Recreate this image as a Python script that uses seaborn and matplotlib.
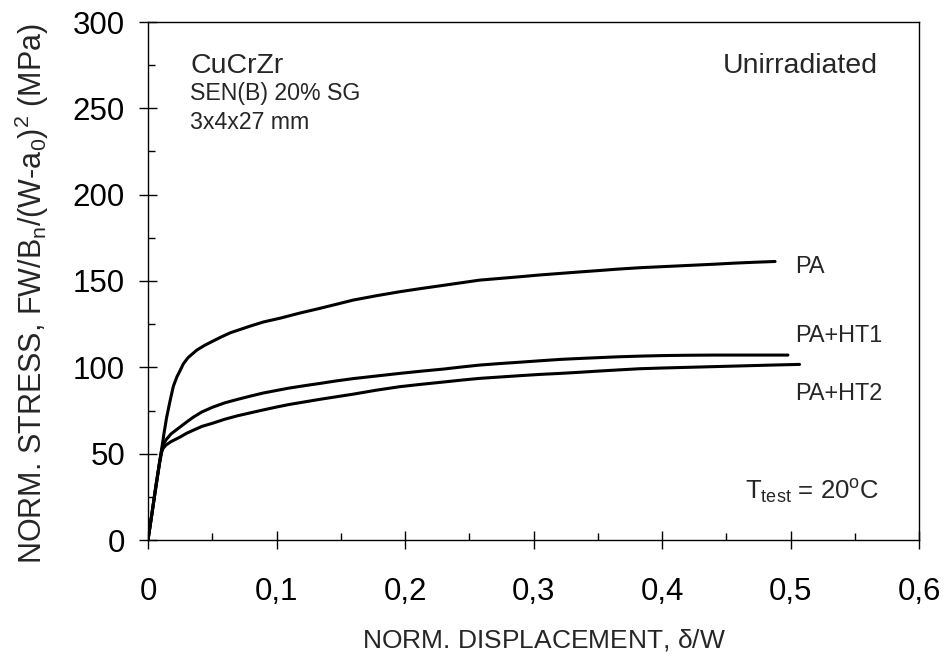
import matplotlib
matplotlib.use("Agg")
import matplotlib.pyplot as plt
from matplotlib.ticker import MultipleLocator, FuncFormatter
import pandas as pd
import seaborn as sns

# Normalised displacement (delta/W) and normalised stress (MPa) for each condition
disp_pa = [0, 0.003, 0.006, 0.009, 0.0105, 0.0125, 0.0145, 0.017, 0.0197, 0.0225, 0.0249,
           0.0275, 0.031, 0.038, 0.044, 0.05, 0.057, 0.064, 0.072, 0.08, 0.09, 0.103,
           0.118, 0.134, 0.147, 0.16, 0.178, 0.196, 0.213, 0.23, 0.244, 0.258, 0.274,
           0.29, 0.305, 0.321, 0.335, 0.35, 0.366, 0.383, 0.40, 0.42, 0.44, 0.455, 0.47, 0.488]
stress_pa = [0, 15, 31, 45, 52, 62, 71, 80, 89, 94.5, 98,
             102, 105.5, 110, 112.7, 115, 117.6, 120, 122, 124, 126.3, 128.5,
             131.4, 134.2, 136.6, 139, 141.5, 143.8, 145.7, 147.5, 149, 150.5, 151.5,
             152.5, 153.5, 154.4, 155.2, 156, 156.9, 157.7, 158.3, 159, 159.7, 160.3, 160.8, 161.3]

disp_ht1 = [0, 0.003, 0.006, 0.009, 0.0105, 0.0117, 0.014, 0.018, 0.0249, 0.03, 0.035,
            0.042, 0.0506, 0.06, 0.07, 0.08, 0.0895, 0.1, 0.11, 0.122, 0.134, 0.147,
            0.16, 0.178, 0.196, 0.213, 0.23, 0.244, 0.258, 0.274, 0.29, 0.305, 0.321,
            0.335, 0.35, 0.366, 0.383, 0.40, 0.42, 0.44, 0.46, 0.48, 0.498]
stress_ht1 = [0, 15, 30, 45, 51.5, 55, 58, 61.5, 65.4, 68.3, 71,
              74.2, 77, 79.5, 81.5, 83.4, 85.1, 86.6, 88, 89.4, 90.7, 92.2,
              93.5, 95, 96.5, 97.8, 99, 100.2, 101.3, 102.2, 103, 103.8, 104.6,
              105.1, 105.6, 106.1, 106.5, 106.8, 107, 107.1, 107.1, 107.1, 107.1]

disp_ht2 = [0, 0.003, 0.006, 0.009, 0.0105, 0.0117, 0.014, 0.018, 0.0249, 0.03, 0.035,
            0.042, 0.0506, 0.06, 0.07, 0.08, 0.0895, 0.1, 0.11, 0.122, 0.134, 0.147,
            0.16, 0.178, 0.196, 0.213, 0.23, 0.244, 0.258, 0.274, 0.29, 0.305, 0.321,
            0.335, 0.35, 0.366, 0.383, 0.40, 0.42, 0.44, 0.46, 0.485, 0.507]
stress_ht2 = [0, 15, 30, 44.5, 50.5, 53, 55, 57, 59.6, 61.8, 63.5,
              65.8, 67.7, 70, 72, 73.7, 75.3, 77, 78.5, 80, 81.5, 83,
              84.5, 86.8, 88.8, 90.2, 91.5, 92.6, 93.6, 94.4, 95.2, 95.9, 96.5,
              97.1, 97.8, 98.5, 99.2, 99.6, 100, 100.4, 100.8, 101.3, 101.7]

series_names = ["PA", "PA+HT1", "PA+HT2"]

frames = []
for name, xs, ys in zip(series_names,
                        [disp_pa, disp_ht1, disp_ht2],
                        [stress_pa, stress_ht1, stress_ht2]):
    frames.append(pd.DataFrame({"disp": xs, "stress": ys, "cond": name}))
data = pd.concat(frames, ignore_index=True)

sns.set_style("ticks")
plt.rcParams["font.family"] = ["Liberation Sans", "DejaVu Sans"]
plt.rcParams["mathtext.default"] = "regular"

fig = plt.figure(figsize=(9.47, 6.57), dpi=100)
ax = fig.add_axes([148 / 947, 1 - 540 / 657, (919 - 148) / 947, (540 - 22) / 657])

sns.lineplot(data=data, x="disp", y="stress", hue="cond",
             palette=["black"] * 3, estimator=None, legend=False,
             linewidth=2.2, ax=ax)

ax.set_xlim(0, 0.6)
ax.set_ylim(0, 300)
ax.xaxis.set_major_locator(MultipleLocator(0.1))
ax.xaxis.set_minor_locator(MultipleLocator(0.05))
ax.yaxis.set_major_locator(MultipleLocator(50))
ax.yaxis.set_minor_locator(MultipleLocator(25))
ax.xaxis.set_major_formatter(FuncFormatter(
    lambda v, p: "0" if abs(v) < 1e-9 else f"{v:.1f}".replace(".", ",")))
ax.yaxis.set_major_formatter(FuncFormatter(lambda v, p: f"{v:.0f}"))

for s in ax.spines.values():
    s.set_linewidth(1.0)
    s.set_color("black")

ax.tick_params(which="major", direction="inout", length=13, width=1.0,
               labelsize=22.5, colors="black")
ax.tick_params(axis="x", which="major", pad=20)
ax.tick_params(axis="y", which="major", pad=10)
ax.tick_params(which="minor", direction="in", length=5, width=1.0, colors="black")
ax.tick_params(top=False, right=False, which="both")

ax.set_xlabel(r"NORM. DISPLACEMENT, $\delta$/W", fontsize=19)
ax.xaxis.set_label_coords(0.513, -0.168)
ax.set_ylabel(r"NORM. STRESS, FW/B$_n$/(W-a$_0$)$^2$ (MPa)", fontsize=22)
ax.yaxis.set_label_coords(-0.126, 0.476)

ax.text(0.0327, 270.5, "CuCrZr", fontsize=20.5, va="baseline")
ax.text(0.0327, 255, "SEN(B) 20% SG", fontsize=16.7, va="baseline")
ax.text(0.0327, 238, "3x4x27 mm", fontsize=16.7, va="baseline")
ax.text(0.568, 270.5, "Unirradiated", fontsize=20.5, ha="right", va="baseline")

ax.text(0.5035, 154.6, "PA", fontsize=16.9, va="baseline")
ax.text(0.5035, 114.9, "PA+HT1", fontsize=16.9, va="baseline")
ax.text(0.5035, 81, "PA+HT2", fontsize=16.9, va="baseline")

ax.text(0.4646, 23.2, r"T$_{test}$ = 20$^o$C", fontsize=18.5, va="baseline")

fig.savefig("out.png", dpi=100)
